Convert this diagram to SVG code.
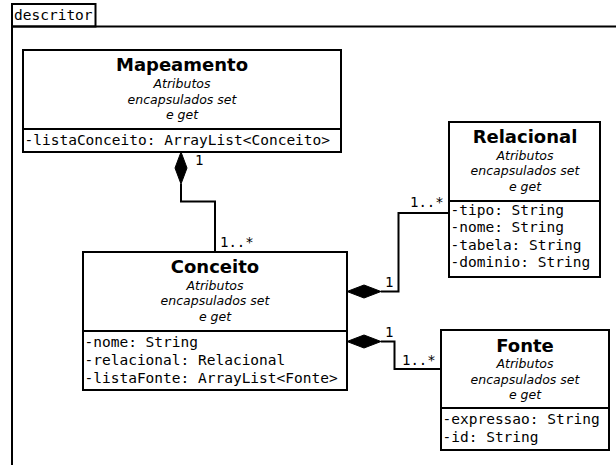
<svg xmlns="http://www.w3.org/2000/svg" width="616" height="465" viewBox="0 0 616 465">
  <style>
    .box { fill: #ffffff; stroke: #000000; stroke-width: 2; }
    .sep { stroke: #000000; stroke-width: 2; }
    .edge { fill: none; stroke: #000000; stroke-width: 2; }
    .diamond { fill: #000000; stroke: #000000; stroke-width: 1; }
    .title { font-family: "DejaVu Sans", sans-serif; font-weight: bold; font-size: 18px; text-anchor: middle; fill: #000; }
    .note { font-family: "DejaVu Sans", sans-serif; font-style: italic; font-size: 12.5px; text-anchor: middle; fill: #000; }
    .attr { font-family: "DejaVu Sans Mono", monospace; font-size: 14.5px; fill: #000; }
    .mult { font-family: "DejaVu Sans Mono", monospace; font-size: 14px; fill: #000; }
  </style>

  <!-- package frame -->
  <g id="package-descritor">
    <rect x="12" y="4" width="83.5" height="22.5" class="box"/>
    <text x="14" y="20" class="attr">descritor</text>
    <polyline points="616,26.5 12,26.5 12,465" class="edge"/>
  </g>

  <!-- connectors -->
  <g id="connectors">
    <polygon points="181,152 187,168 181,184 175,168" class="diamond"/>
    <polyline points="181,184 181,201.5 215,201.5 215,252" class="edge"/>
    <polygon points="347,291.5 364,285 381,291.5 364,298" class="diamond"/>
    <polyline points="381,291.5 398.5,291.5 398.5,213 449,213" class="edge"/>
    <polygon points="347,341.5 364,335 381,341.5 364,348" class="diamond"/>
    <polyline points="381,341.5 394.5,341.5 394.5,369 441,369" class="edge"/>
    <text x="195" y="165" class="mult">1</text>
    <text x="220" y="247" class="mult">1..*</text>
    <text x="385" y="287" class="mult">1</text>
    <text x="410" y="207" class="mult">1..*</text>
    <text x="385" y="337" class="mult">1</text>
    <text x="402" y="365" class="mult">1..*</text>
  </g>

  <!-- classes -->
  <g id="class-mapeamento">
    <rect x="23" y="50" width="318" height="102" class="box"/>
    <line x1="23" y1="129" x2="341" y2="129" class="sep"/>
    <text x="182" y="71" class="title">Mapeamento</text>
    <text x="182" y="88" class="note">Atributos</text>
    <text x="182" y="104" class="note">encapsulados set</text>
    <text x="182" y="119" class="note">e get</text>
    <text x="24.5" y="145" class="attr">-listaConceito: ArrayList&lt;Conceito&gt;</text>
  </g>

  <g id="class-conceito">
    <rect x="83" y="252" width="264" height="138" class="box"/>
    <line x1="83" y1="331" x2="347" y2="331" class="sep"/>
    <text x="215" y="273" class="title">Conceito</text>
    <text x="215" y="289.5" class="note">Atributos</text>
    <text x="215" y="305" class="note">encapsulados set</text>
    <text x="215" y="321" class="note">e get</text>
    <text x="84.5" y="347" class="attr">-nome: String</text>
    <text x="84.5" y="365" class="attr">-relacional: Relacional</text>
    <text x="84.5" y="383" class="attr">-listaFonte: ArrayList&lt;Fonte&gt;</text>
  </g>

  <g id="class-relacional">
    <rect x="449" y="122" width="151" height="155" class="box"/>
    <line x1="449" y1="201" x2="600" y2="201" class="sep"/>
    <text x="525" y="143" class="title">Relacional</text>
    <text x="525" y="159.5" class="note">Atributos</text>
    <text x="525" y="175" class="note">encapsulados set</text>
    <text x="525" y="191" class="note">e get</text>
    <text x="450.5" y="214.5" class="attr">-tipo: String</text>
    <text x="450.5" y="232" class="attr">-nome: String</text>
    <text x="450.5" y="249.5" class="attr">-tabela: String</text>
    <text x="450.5" y="267" class="attr">-dominio: String</text>
  </g>

  <g id="class-fonte">
    <rect x="441" y="330" width="168" height="120" class="box"/>
    <line x1="441" y1="408" x2="609" y2="408" class="sep"/>
    <text x="525" y="352" class="title">Fonte</text>
    <text x="525" y="368" class="note">Atributos</text>
    <text x="525" y="383.5" class="note">encapsulados set</text>
    <text x="525" y="399" class="note">e get</text>
    <text x="442.5" y="424" class="attr">-expressao: String</text>
    <text x="442.5" y="442" class="attr">-id: String</text>
  </g>
</svg>
